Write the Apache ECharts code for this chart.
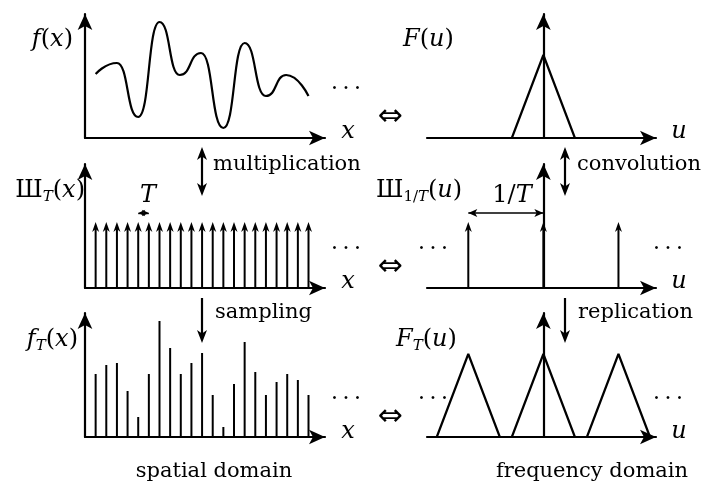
<!DOCTYPE html>
<html><head><meta charset="utf-8">
<script src="https://cdn.jsdelivr.net/npm/echarts@6/dist/echarts.min.js"></script>
<style>html,body{margin:0;padding:0;background:#fff}#c{width:702px;height:484px}</style>
</head><body><div id="c"></div>
<script>
// ---------------- data ----------------
const sampleIndex  = [0,1,2,3,4,5,6,7,8,9,10,11,12,13,14,15,16,17,18,19,20];
const sampleValues = [63,72,74,46,20,63,116,89,63,74,84,42,10,53,95,65,42,55,63,57,42];
const curveX = [0, 2, 4, 6, 7.9, 9.9, 12, 14, 16, 17.9, 20];
const curveY = [64, 75, 21, 116, 63, 85, 10, 95, 42, 63, 42];
const combHeight = 66;
const combU = [-1, 0, 1];
const triangleU = [-0.42, 0, 0.42];
const triangleF = [0, 83, 0];
const replicaCenters = [-1, 0, 1];
const periodMarkHeight = 75;
const periodT = [4, 5];
const periodInvT = [-1, 0];

// ---------------- helpers ----------------
const BLACK = '#000';
const SERIF = '"DejaVu Serif"';
const AX_W = 2.2;

function axisBase(extra) {
  return Object.assign({
    type: 'value',
    axisTick: {show: false},
    axisLabel: {show: false},
    splitLine: {show: false},
    axisLine: {show: true, symbol: ['none', 'arrow'], symbolSize: [11, 16],
      lineStyle: {color: BLACK, width: AX_W}}
  }, extra);
}

const grids = [
  {left: 85,  top: 14,  width: 240, height: 124},
  {left: 427, top: 14,  width: 229, height: 124},
  {left: 85,  top: 164, width: 240, height: 124},
  {left: 427, top: 164, width: 229, height: 124},
  {left: 85,  top: 313, width: 240, height: 124},
  {left: 427, top: 313, width: 229, height: 124}
];
const xAxes = [], yAxes = [];
grids.forEach((g, k) => {
  const isLeft = k % 2 === 0;
  xAxes.push(axisBase({gridIndex: k, min: isLeft ? -1 : -1.55, max: isLeft ? 21.55 : 1.5}));
  const y = axisBase({gridIndex: k, min: 0, max: 124});
  y.axisLine.onZero = !isLeft;
  yAxes.push(y);
});

function impulseRender(params, api) {
  const x = api.value(0), h = api.value(1);
  const p0 = api.coord([x, 0]), p1 = api.coord([x, h]);
  return {type: 'group', children: [
    {type: 'line', shape: {x1: p0[0], y1: p0[1], x2: p1[0], y2: p1[1] + 5},
      style: {stroke: BLACK, lineWidth: 2}},
    {type: 'polygon', shape: {points: [[p1[0], p1[1]], [p1[0] + 3.5, p1[1] + 10],
      [p1[0], p1[1] + 7], [p1[0] - 3.5, p1[1] + 10]]}, style: {fill: BLACK}}
  ]};
}
function stickRender(params, api) {
  const x = api.value(0), h = api.value(1);
  const p0 = api.coord([x, 0]), p1 = api.coord([x, h]);
  return {type: 'line', shape: {x1: p0[0], y1: p0[1], x2: p1[0], y2: p1[1]},
    style: {stroke: BLACK, lineWidth: 2}};
}
const lineStyle = {color: BLACK, width: 2.2};

const series = [
  {type: 'line', xAxisIndex: 0, yAxisIndex: 0, smooth: 0.55, smoothMonotone: 'x',
    showSymbol: false, lineStyle, data: curveX.map((x, i) => [x, curveY[i]]), z: 3},
  {type: 'line', xAxisIndex: 1, yAxisIndex: 1, showSymbol: false, lineStyle,
    data: triangleU.map((u, i) => [u, triangleF[i]])},
  {type: 'custom', xAxisIndex: 2, yAxisIndex: 2, renderItem: impulseRender,
    data: sampleIndex.map(i => [i, combHeight]),
    markLine: {silent: true, symbol: ['arrow', 'arrow'], symbolSize: [5, 7],
      label: {show: false}, lineStyle: {color: BLACK, width: 1.4, type: 'solid'},
      data: [[{coord: [periodT[0], periodMarkHeight]}, {coord: [periodT[1], periodMarkHeight]}]]}},
  {type: 'custom', xAxisIndex: 3, yAxisIndex: 3, renderItem: impulseRender,
    data: combU.map(u => [u, combHeight]),
    markLine: {silent: true, symbol: ['arrow', 'arrow'], symbolSize: [6, 9],
      label: {show: false}, lineStyle: {color: BLACK, width: 1.6, type: 'solid'},
      data: [[{coord: [periodInvT[0], periodMarkHeight]}, {coord: [periodInvT[1], periodMarkHeight]}]]}},
  {type: 'custom', xAxisIndex: 4, yAxisIndex: 4, renderItem: stickRender,
    data: sampleIndex.map((i, k) => [i, sampleValues[k]])}
];
replicaCenters.forEach(c => {
  series.push({type: 'line', xAxisIndex: 5, yAxisIndex: 5, showSymbol: false, lineStyle,
    data: triangleU.map((u, i) => [c + u, triangleF[i]])});
});

// ---------------- text ----------------
const FS = 21, MS = 24, SUB = 15;
function item(style, size, lh, va) {
  const o = {font: style + ' ' + size + 'px ' + SERIF, textFont: style + ' ' + size + 'px ' + SERIF,
    lineHeight: lh, fill: BLACK, textFill: BLACK};
  if (va) { o.verticalAlign = va; o.textVerticalAlign = va; }
  return o;
}
const rich = {
  i:  item('italic', MS, 28),
  r:  item('normal', MS, 28),
  s:  item('italic', SUB, SUB, 'bottom'),
  sr: item('normal', SUB, SUB, 'bottom')
};
function txt(x, y, text, align, font) {
  const f = font || ('normal ' + FS + 'px ' + SERIF);
  return {type: 'text', x: x, y: y, silent: true, z: 10,
    style: {text: text, rich: rich, align: align, textAlign: align,
      verticalAlign: 'middle', textVerticalAlign: 'middle', fill: BLACK, textFill: BLACK,
      font: f, textFont: f}};
}
const dots = '\u00B7\u2009\u00B7\u2009\u00B7';
const DOTF = 'normal 22px "DejaVu Serif"';
const ARRF = 'normal 30px "DejaVu Sans"';
const graphics = [
  txt(73, 40, '{i|f}{r|(}{i|x}{r|)}', 'right'),
  txt(85, 191, '{r|Ш}{s|T}{r|(}{i|x}{r|)}', 'right'),
  txt(78, 340, '{i|f}{s|T}{r|(}{i|x}{r|)}', 'right'),
  txt(403, 40, '{i|F}{r|(}{i|u}{r|)}', 'left'),
  txt(376, 191, '{r|Ш}{sr|1/}{s|T}{r|(}{i|u}{r|)}', 'left'),
  txt(396, 340, '{i|F}{s|T}{r|(}{i|u}{r|)}', 'left'),
  txt(348, 132, '{i|x}', 'center'),
  txt(348, 282, '{i|x}', 'center'),
  txt(348, 432, '{i|x}', 'center'),
  txt(679, 132, '{i|u}', 'center'),
  txt(679, 282, '{i|u}', 'center'),
  txt(679, 432, '{i|u}', 'center'),
  txt(148, 196, '{i|T}', 'center'),
  txt(512, 196, '{r|1/}{i|T}', 'center'),
  txt(390, 117, '\u21D4', 'center', ARRF),
  txt(390, 267, '\u21D4', 'center', ARRF),
  txt(390, 417, '\u21D4', 'center', ARRF),
  txt(346, 89, dots, 'center', DOTF),
  txt(346, 249, dots, 'center', DOTF),
  txt(346, 399, dots, 'center', DOTF),
  txt(433, 249, dots, 'center', DOTF),
  txt(668, 249, dots, 'center', DOTF),
  txt(433, 399, dots, 'center', DOTF),
  txt(668, 399, dots, 'center', DOTF),
  txt(213, 165, 'multiplication', 'left'),
  txt(577, 165, 'convolution', 'left'),
  txt(215, 313, 'sampling', 'left'),
  txt(578, 313, 'replication', 'left'),
  txt(214, 472, 'spatial domain', 'center'),
  txt(592, 472, 'frequency domain', 'center')
];
function head(x, y, dir) { // dir -1: points up, +1: points down
  return {type: 'polygon', silent: true, z: 10,
    shape: {points: [[x, y], [x + 5, y - dir * 13], [x, y - dir * 9.5], [x - 5, y - dir * 13]]},
    style: {fill: BLACK}};
}
function vline(x, y1, y2) {
  return {type: 'line', silent: true, z: 10, shape: {x1: x, y1: y1, x2: x, y2: y2},
    style: {stroke: BLACK, lineWidth: 2.2}};
}
[202, 565].forEach(x => {
  graphics.push(vline(x, 152, 191), head(x, 147, -1), head(x, 196, 1));
  graphics.push(vline(x, 298, 338), head(x, 343, 1));
});

const chart = echarts.init(document.getElementById('c'));
chart.setOption({
  animation: false,
  backgroundColor: '#fff',
  grid: grids,
  xAxis: xAxes,
  yAxis: yAxes,
  series: series,
  graphic: graphics
});
</script></body></html>
